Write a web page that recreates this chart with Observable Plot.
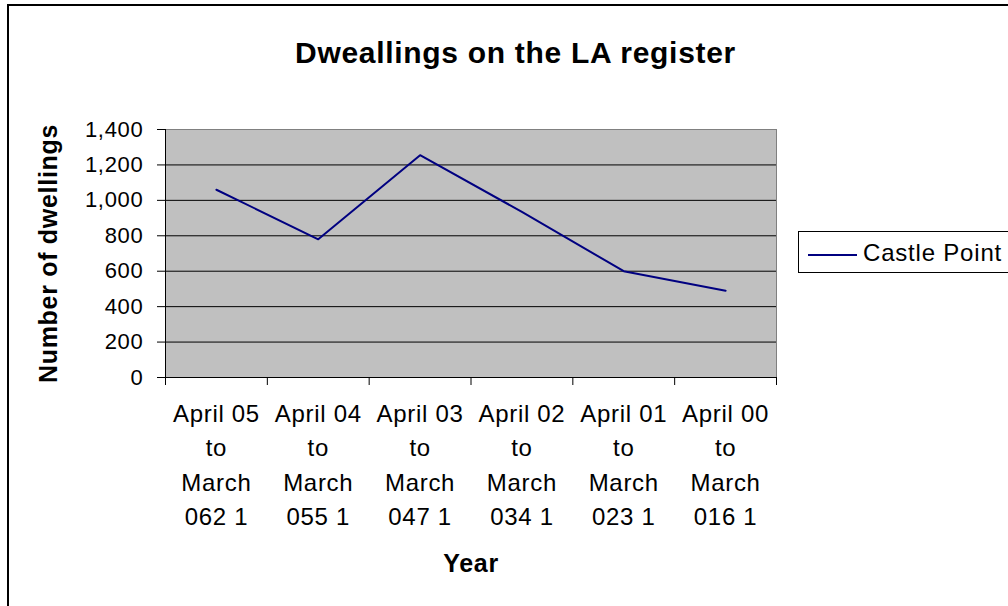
<!DOCTYPE html>
<html>
<head>
<meta charset="utf-8">
<script src="https://cdn.jsdelivr.net/npm/d3@7"></script>
<script src="https://cdn.jsdelivr.net/npm/@observablehq/plot@0.6"></script>
<style>
  html, body { margin: 0; padding: 0; background: #fff; }
  body { font-family: "Liberation Sans", Arial, sans-serif; }
  #wrap { position: relative; width: 1008px; height: 606px; overflow: hidden; background: #fff; }
  #frame { position: absolute; left: 7px; top: 4px; width: 1100px; height: 700px; border: 2px solid #000; box-sizing: border-box; pointer-events: none; }
  #chart { position: absolute; left: 0; top: 0; }
  #legend { position: absolute; left: 798px; top: 231px; width: 260px; height: 40px; border: 1px solid #000; background: #fff; }
  #legend .sw { position: absolute; left: 9px; top: 22px; width: 49px; height: 2px; background: #000080; }
  #legend .lab { position: absolute; left: 64px; top: 9px; font-size: 24px; line-height: 24px; letter-spacing: 0.8px; color: #000; white-space: nowrap; }
</style>
</head>
<body>
<div id="wrap">
  <div id="chart"></div>
  <div id="frame"></div>
  <div id="legend"><span class="sw"></span><span class="lab" id="legendLabel"></span></div>
</div>
<script>
const categories = [
  "April 05\nto\nMarch\n062 1",
  "April 04\nto\nMarch\n055 1",
  "April 03\nto\nMarch\n047 1",
  "April 02\nto\nMarch\n034 1",
  "April 01\nto\nMarch\n023 1",
  "April 00\nto\nMarch\n016 1"
];
const values = [1060, 780, 1255, 935, 600, 490];
const yTicks = [0, 200, 400, 600, 800, 1000, 1200, 1400];
const seriesName = "Castle Point";
const chartTitle = "Dweallings on the LA register";
const xTitle = "Year";
const yTitle = "Number of dwellings";

const data = categories.map((label, i) => ({i, label, value: values[i]}));
const catCenters = categories.map((_, i) => i + 0.5);
const catBounds = d3.range(categories.length + 1);

const chart = Plot.plot({
  width: 1008,
  height: 606,
  marginLeft: 165,
  marginRight: 232,
  marginTop: 129,
  marginBottom: 229,
  style: {fontFamily: '"Liberation Sans", Arial, sans-serif', background: "transparent", color: "#000", overflow: "visible"},
  x: {type: "linear", domain: [0, categories.length], axis: null},
  y: {domain: [0, 1400], axis: null},
  marks: [
    Plot.frame({fill: "#C0C0C0", stroke: "#808080"}),
    Plot.gridY(yTicks.filter(v => v > 0 && v < 1400), {stroke: "#000", strokeOpacity: 1, strokeWidth: 1}),
    Plot.ruleY([0], {stroke: "#000"}),
    Plot.ruleX([0], {stroke: "#000"}),
    Plot.axisY({ticks: yTicks, tickSize: 8, tickPadding: 14, tickFormat: d3.format(","), fontSize: 22, label: null}),
    Plot.axisX({ticks: catBounds, tickSize: 8, tickFormat: () => "", label: null}),
    Plot.axisX({ticks: catCenters, tickSize: 0, tickPadding: 20, tickFormat: d => categories[Math.floor(d)], fontSize: 24, lineHeight: 1.43, label: null}),
    Plot.line(data, {x: d => d.i + 0.5, y: "value", stroke: "#000080", strokeWidth: 2}),
    Plot.text([chartTitle], {frameAnchor: "top", dx: 44.5, dy: -67, lineAnchor: "bottom", fontSize: 30, fontWeight: "bold"}),
    Plot.text([yTitle], {frameAnchor: "left", dx: -117, rotate: -90, textAnchor: "middle", fontSize: 25, fontWeight: "bold"}),
    Plot.text([xTitle], {frameAnchor: "bottom", dy: 194, textAnchor: "middle", fontSize: 25, fontWeight: "bold"})
  ]
});
chart.style.letterSpacing = "0.7px";
document.getElementById("chart").appendChild(chart);
document.getElementById("legendLabel").textContent = seriesName;
</script>
</body>
</html>
